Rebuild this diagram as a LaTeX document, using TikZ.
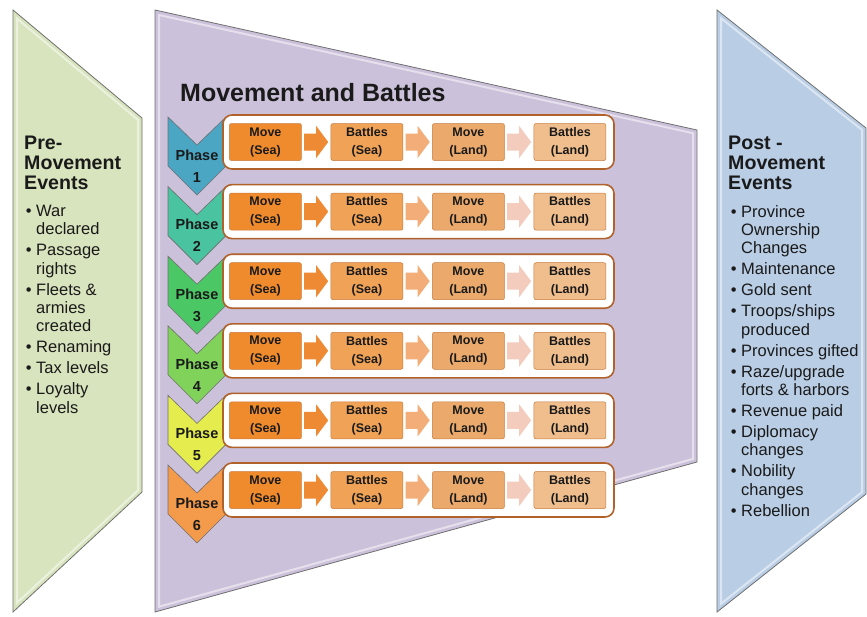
\documentclass[tikz,border=0pt]{standalone}
\usepackage{fontspec}
\setmainfont{Liberation Sans}
\usetikzlibrary{positioning}
\definecolor{preface}{HTML}{D7E4BD}
\definecolor{midface}{HTML}{CCC1DA}
\definecolor{postface}{HTML}{B9CDE5}
\definecolor{panelrim}{HTML}{6F6F6F}
\definecolor{rowrim}{HTML}{B0622A}
\definecolor{stepA}{HTML}{F08B2D}
\definecolor{stepB}{HTML}{F0A256}
\definecolor{stepC}{HTML}{EBAA6C}
\definecolor{stepD}{HTML}{F0BE8D}
\definecolor{stepedge}{HTML}{C77B3F}
\definecolor{arrA}{HTML}{EE8A33}
\definecolor{arrB}{HTML}{F2AD78}
\definecolor{arrC}{HTML}{F3CCBE}
\definecolor{phaseone}{HTML}{4BA6C4}
\definecolor{phasetwo}{HTML}{49C3A0}
\definecolor{phasethree}{HTML}{4CC766}
\definecolor{phasefour}{HTML}{80D25A}
\definecolor{phasefive}{HTML}{E5EC4E}
\definecolor{phasesix}{HTML}{F39B4A}
\definecolor{ink}{HTML}{1A1A1A}
\newcommand{\itemdot}{\llap{•\hspace{4.5pt}}}

\begin{document}
\begin{tikzpicture}[x=1pt, y=-1pt,
    every node/.style={text=ink},
    panel/.style={draw=panelrim, line width=0.8pt},
    bevel/.style={draw=white, opacity=0.5, line width=2pt},
    heading/.style={anchor=north west, inner sep=0pt, align=left,
                    font=\fontsize{19.6}{20}\selectfont\bfseries},
    bullets/.style={inner sep=0pt, align=left,
                    font=\fontsize{16.5}{18.3}\selectfont},
    rowbox/.style={draw=rowrim, fill=white, line width=1.6pt, rounded corners=9pt,
                   minimum width=391pt, minimum height=54pt, inner sep=0pt},
    stepbox/.style={draw=stepedge, line width=0.5pt, rounded corners=2pt,
                    minimum width=72pt, minimum height=37pt, inner sep=0pt, align=center,
                    font=\fontsize{12.5}{18}\selectfont\bfseries},
    chevron/.style={draw=panelrim, line width=0.6pt},
    phaselabel/.style={align=center, inner sep=0pt,
                       font=\fontsize{14.5}{22}\selectfont\bfseries},
    pics/stepgap/.style={code={
      \fill[#1] (0,-8.5) -- (12,-8.5) -- (12,-16) -- (24,0) -- (12,16) -- (12,8.5) -- (0,8.5) -- cycle;}}]

\useasboundingbox (0,0) rectangle (867,616);

%% ==== three big panels ==============================================
\draw[panel, fill=preface]  (13,10)  -- (142,118) -- (142,492) -- (13,612)  -- cycle;
\draw[panel, fill=midface]  (155,10) -- (697,130) -- (697,462) -- (155,612) -- cycle;
\draw[panel, fill=postface] (717,10) -- (866,128) -- (866,494) -- (717,612) -- cycle;

%% light inner edge
\draw[bevel] (17,18.6)  -- (138,119.9) -- (138,490.3) -- (17,602.8)  -- cycle;
\draw[bevel] (159,15.0) -- (693,133.2) -- (693,458.9) -- (159,606.7) -- cycle;
\draw[bevel] (721,18.3) -- (862,129.9) -- (862,492.1) -- (721,603.7) -- cycle;

%% ==== left panel: before movement ===================================
\node[heading] (prehead) at (24,136) {Pre-\\Movement\\Events};
\node[bullets, below right=15pt and 12pt of prehead.south west] (prelist)
  {\itemdot War\\declared\\[2.7pt]
   \itemdot Passage\\rights\\[2.7pt]
   \itemdot Fleets \&\\armies\\created\\[2.7pt]
   \itemdot Renaming\\[2.7pt]
   \itemdot Tax levels\\[2.7pt]
   \itemdot Loyalty\\levels};

%% ==== right panel: after movement ===================================
\node[heading] (posthead) at (728,136) {Post -\\Movement\\Events};
\node[bullets, below right=15pt and 13pt of posthead.south west] (postlist)
  {\itemdot Province\\Ownership\\Changes\\[2.7pt]
   \itemdot Maintenance\\[2.7pt]
   \itemdot Gold sent\\[2.7pt]
   \itemdot Troops/ships\\produced\\[2.7pt]
   \itemdot Provinces gifted\\[2.7pt]
   \itemdot Raze/upgrade\\forts \& harbors\\[2.7pt]
   \itemdot Revenue paid\\[2.7pt]
   \itemdot Diplomacy\\changes\\[2.7pt]
   \itemdot Nobility\\changes\\[2.7pt]
   \itemdot Rebellion};

%% ==== middle panel: the six phases ==================================
\node[anchor=base west, inner sep=0pt, font=\fontsize{25}{30}\selectfont\bfseries]
  (title) at (180,101) {Movement and Battles};

%% ---- Phase 1 ----
\begin{scope}
  \draw[chevron, fill=phaseone] (168,117) -- (197,145) -- (226,117) -- (226,166) -- (197,195) -- (168,166) -- cycle;
  \node[phaselabel] (ph1) at (197,166) {Phase\\1};
  \node[rowbox] (row1) at (418.5,142) {};
  \node[stepbox, fill=stepA, right=7pt of row1.west] (ms1) {Move\\(Sea)};
  \node[stepbox, fill=stepB, right=29pt of ms1] (bs1) {Battles\\(Sea)};
  \node[stepbox, fill=stepC, right=29pt of bs1] (ml1) {Move\\(Land)};
  \node[stepbox, fill=stepD, right=29pt of ml1] (bl1) {Battles\\(Land)};
  \pic at ([xshift=2.5pt]ms1.east) {stepgap=arrA};
  \pic at ([xshift=2.5pt]bs1.east) {stepgap=arrB};
  \pic at ([xshift=2.5pt]ml1.east) {stepgap=arrC};
\end{scope}

%% ---- Phase 2 ----
\begin{scope}[shift={(0,69.6)}]
  \draw[chevron, fill=phasetwo] (168,117) -- (197,145) -- (226,117) -- (226,166) -- (197,195) -- (168,166) -- cycle;
  \node[phaselabel] (ph2) at (197,166) {Phase\\2};
  \node[rowbox] (row2) at (418.5,142) {};
  \node[stepbox, fill=stepA, right=7pt of row2.west] (ms2) {Move\\(Sea)};
  \node[stepbox, fill=stepB, right=29pt of ms2] (bs2) {Battles\\(Sea)};
  \node[stepbox, fill=stepC, right=29pt of bs2] (ml2) {Move\\(Land)};
  \node[stepbox, fill=stepD, right=29pt of ml2] (bl2) {Battles\\(Land)};
  \pic at ([xshift=2.5pt]ms2.east) {stepgap=arrA};
  \pic at ([xshift=2.5pt]bs2.east) {stepgap=arrB};
  \pic at ([xshift=2.5pt]ml2.east) {stepgap=arrC};
\end{scope}

%% ---- Phase 3 ----
\begin{scope}[shift={(0,139.2)}]
  \draw[chevron, fill=phasethree] (168,117) -- (197,145) -- (226,117) -- (226,166) -- (197,195) -- (168,166) -- cycle;
  \node[phaselabel] (ph3) at (197,166) {Phase\\3};
  \node[rowbox] (row3) at (418.5,142) {};
  \node[stepbox, fill=stepA, right=7pt of row3.west] (ms3) {Move\\(Sea)};
  \node[stepbox, fill=stepB, right=29pt of ms3] (bs3) {Battles\\(Sea)};
  \node[stepbox, fill=stepC, right=29pt of bs3] (ml3) {Move\\(Land)};
  \node[stepbox, fill=stepD, right=29pt of ml3] (bl3) {Battles\\(Land)};
  \pic at ([xshift=2.5pt]ms3.east) {stepgap=arrA};
  \pic at ([xshift=2.5pt]bs3.east) {stepgap=arrB};
  \pic at ([xshift=2.5pt]ml3.east) {stepgap=arrC};
\end{scope}

%% ---- Phase 4 ----
\begin{scope}[shift={(0,208.8)}]
  \draw[chevron, fill=phasefour] (168,117) -- (197,145) -- (226,117) -- (226,166) -- (197,195) -- (168,166) -- cycle;
  \node[phaselabel] (ph4) at (197,166) {Phase\\4};
  \node[rowbox] (row4) at (418.5,142) {};
  \node[stepbox, fill=stepA, right=7pt of row4.west] (ms4) {Move\\(Sea)};
  \node[stepbox, fill=stepB, right=29pt of ms4] (bs4) {Battles\\(Sea)};
  \node[stepbox, fill=stepC, right=29pt of bs4] (ml4) {Move\\(Land)};
  \node[stepbox, fill=stepD, right=29pt of ml4] (bl4) {Battles\\(Land)};
  \pic at ([xshift=2.5pt]ms4.east) {stepgap=arrA};
  \pic at ([xshift=2.5pt]bs4.east) {stepgap=arrB};
  \pic at ([xshift=2.5pt]ml4.east) {stepgap=arrC};
\end{scope}

%% ---- Phase 5 ----
\begin{scope}[shift={(0,278.4)}]
  \draw[chevron, fill=phasefive] (168,117) -- (197,145) -- (226,117) -- (226,166) -- (197,195) -- (168,166) -- cycle;
  \node[phaselabel] (ph5) at (197,166) {Phase\\5};
  \node[rowbox] (row5) at (418.5,142) {};
  \node[stepbox, fill=stepA, right=7pt of row5.west] (ms5) {Move\\(Sea)};
  \node[stepbox, fill=stepB, right=29pt of ms5] (bs5) {Battles\\(Sea)};
  \node[stepbox, fill=stepC, right=29pt of bs5] (ml5) {Move\\(Land)};
  \node[stepbox, fill=stepD, right=29pt of ml5] (bl5) {Battles\\(Land)};
  \pic at ([xshift=2.5pt]ms5.east) {stepgap=arrA};
  \pic at ([xshift=2.5pt]bs5.east) {stepgap=arrB};
  \pic at ([xshift=2.5pt]ml5.east) {stepgap=arrC};
\end{scope}

%% ---- Phase 6 ----
\begin{scope}[shift={(0,348)}]
  \draw[chevron, fill=phasesix] (168,117) -- (197,145) -- (226,117) -- (226,166) -- (197,195) -- (168,166) -- cycle;
  \node[phaselabel] (ph6) at (197,166) {Phase\\6};
  \node[rowbox] (row6) at (418.5,142) {};
  \node[stepbox, fill=stepA, right=7pt of row6.west] (ms6) {Move\\(Sea)};
  \node[stepbox, fill=stepB, right=29pt of ms6] (bs6) {Battles\\(Sea)};
  \node[stepbox, fill=stepC, right=29pt of bs6] (ml6) {Move\\(Land)};
  \node[stepbox, fill=stepD, right=29pt of ml6] (bl6) {Battles\\(Land)};
  \pic at ([xshift=2.5pt]ms6.east) {stepgap=arrA};
  \pic at ([xshift=2.5pt]bs6.east) {stepgap=arrB};
  \pic at ([xshift=2.5pt]ml6.east) {stepgap=arrC};
\end{scope}

\end{tikzpicture}
\end{document}
